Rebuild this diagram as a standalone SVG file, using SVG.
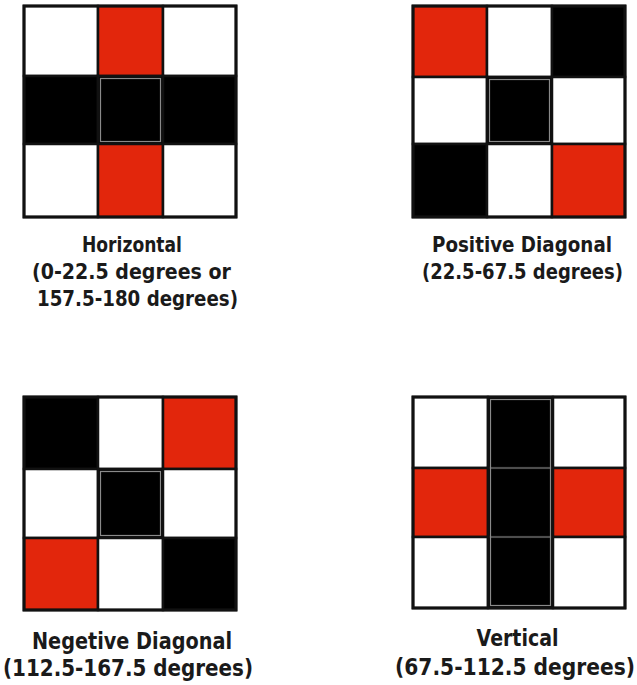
<svg xmlns="http://www.w3.org/2000/svg" width="637" height="685" viewBox="0 0 637 685">
<style>
.w{fill:#fff;stroke:#111;stroke-width:2.5}
.r{fill:#e2260c;stroke:#111;stroke-width:2.5}
.k{fill:#000;stroke:#111;stroke-width:2.5}
.g{fill:none;stroke:#8a8a8a;stroke-width:1.2}
.o{fill:none;stroke:#111;stroke-width:3}
.t{font-family:"DejaVu Sans","Liberation Sans",sans-serif;font-weight:bold;font-size:21px;fill:#1a1a1a}
.b{font-size:22.5px}
</style>
<rect width="637" height="685" fill="#fff"/>
<g id="horizontal">
<rect class="w" x="24" y="6" width="74" height="70"/>
<rect class="r" x="98" y="6" width="65" height="70"/>
<rect class="w" x="163" y="6" width="73" height="70"/>
<rect class="k" x="24" y="76" width="74" height="68"/>
<rect class="k" x="98" y="76" width="65" height="68"/>
<rect class="k" x="163" y="76" width="73" height="68"/>
<rect class="g" x="100.5" y="78.5" width="60" height="63"/>
<rect class="w" x="24" y="144" width="74" height="73"/>
<rect class="r" x="98" y="144" width="65" height="73"/>
<rect class="w" x="163" y="144" width="73" height="73"/>
<rect class="o" x="24" y="6" width="212" height="211"/>
<text class="t" x="82" y="252" textLength="100" lengthAdjust="spacingAndGlyphs">Horizontal</text>
<text class="t" x="32" y="279" textLength="199" lengthAdjust="spacingAndGlyphs">(0-22.5 degrees or</text>
<text class="t" x="37" y="306" textLength="201" lengthAdjust="spacingAndGlyphs">157.5-180 degrees)</text>
</g>
<g id="positive-diagonal">
<rect class="r" x="413" y="6" width="74" height="71"/>
<rect class="w" x="487" y="6" width="65" height="71"/>
<rect class="k" x="552" y="6" width="73" height="71"/>
<rect class="w" x="413" y="77" width="74" height="67"/>
<rect class="k" x="487" y="77" width="65" height="67"/>
<rect class="g" x="489.5" y="79.5" width="60" height="62"/>
<rect class="w" x="552" y="77" width="73" height="67"/>
<rect class="k" x="413" y="144" width="74" height="73"/>
<rect class="w" x="487" y="144" width="65" height="73"/>
<rect class="r" x="552" y="144" width="73" height="73"/>
<rect class="o" x="413" y="6" width="212" height="211"/>
<text class="t" x="432" y="252" textLength="180" lengthAdjust="spacingAndGlyphs">Positive Diagonal</text>
<text class="t" x="422" y="279" textLength="201" lengthAdjust="spacingAndGlyphs">(22.5-67.5 degrees)</text>
</g>
<g id="negative-diagonal">
<rect class="k" x="24" y="397" width="74" height="72"/>
<rect class="w" x="98" y="397" width="65" height="72"/>
<rect class="r" x="163" y="397" width="73" height="72"/>
<rect class="w" x="24" y="469" width="74" height="69"/>
<rect class="k" x="98" y="469" width="65" height="69"/>
<rect class="g" x="100.5" y="471.5" width="60" height="64"/>
<rect class="w" x="163" y="469" width="73" height="69"/>
<rect class="r" x="24" y="538" width="74" height="72"/>
<rect class="w" x="98" y="538" width="65" height="72"/>
<rect class="k" x="163" y="538" width="73" height="72"/>
<rect class="o" x="24" y="397" width="212" height="213"/>
<text class="t b" x="32" y="649" textLength="200" lengthAdjust="spacingAndGlyphs">Negetive Diagonal</text>
<text class="t b" x="3" y="676" textLength="250" lengthAdjust="spacingAndGlyphs">(112.5-167.5 degrees)</text>
</g>
<g id="vertical">
<rect class="w" x="413" y="397" width="75" height="71"/>
<rect class="k" x="488" y="397" width="65" height="71"/>
<rect class="w" x="553" y="397" width="72" height="71"/>
<rect class="r" x="413" y="468" width="75" height="69"/>
<rect class="k" x="488" y="468" width="65" height="69"/>
<rect class="r" x="553" y="468" width="72" height="69"/>
<rect class="w" x="413" y="537" width="75" height="71"/>
<rect class="k" x="488" y="537" width="65" height="71"/>
<rect class="w" x="553" y="537" width="72" height="71"/>
<rect class="g" x="490.5" y="399.5" width="60" height="206"/>
<line class="g" x1="490.5" y1="468" x2="550.5" y2="468"/>
<line class="g" x1="490.5" y1="537" x2="550.5" y2="537"/>
<rect class="o" x="413" y="397" width="212" height="211"/>
<text class="t b" x="476.5" y="646" textLength="82" lengthAdjust="spacingAndGlyphs">Vertical</text>
<text class="t b" x="395" y="675" textLength="240" lengthAdjust="spacingAndGlyphs">(67.5-112.5 degrees)</text>
</g>
</svg>
